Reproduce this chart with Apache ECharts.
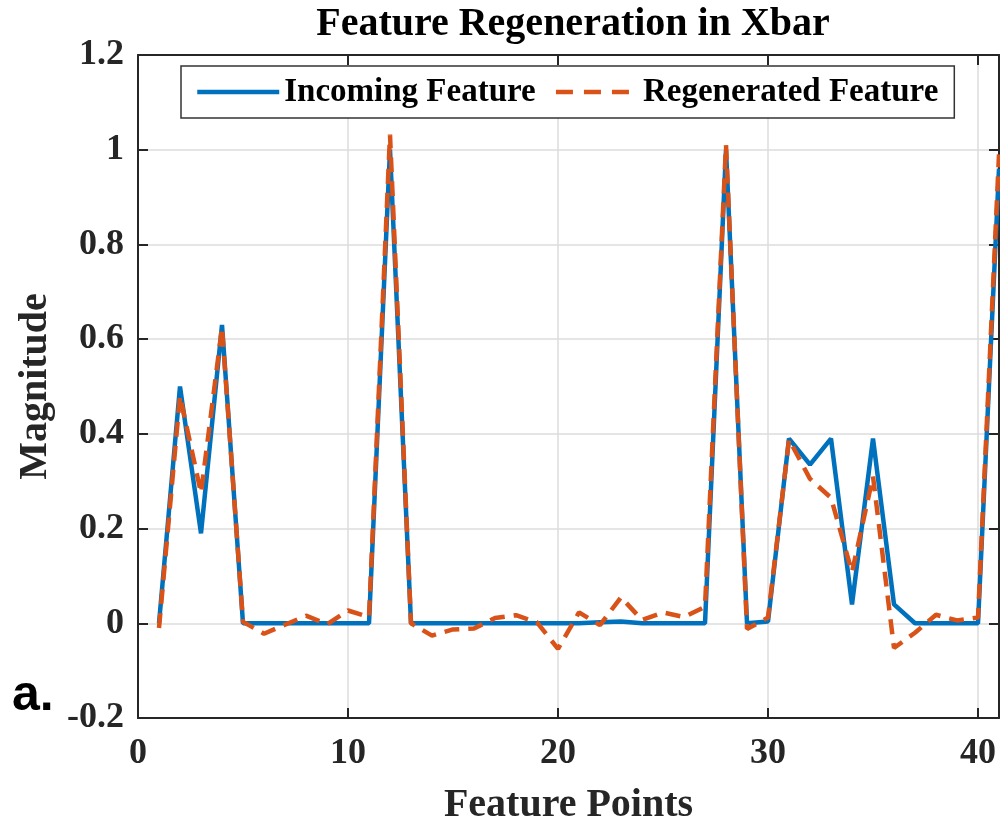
<!DOCTYPE html>
<html>
<head>
<meta charset="utf-8">
<script src="https://cdn.jsdelivr.net/npm/echarts@6/dist/echarts.min.js"></script>
<style>
  html, body { margin: 0; padding: 0; background: #fff; }
  #chart { width: 1000px; height: 823px; }
</style>
</head>
<body>
<div id="chart"></div>
<script>
// feature point index 1..41
var points = [];
for (var i = 1; i <= 41; i++) points.push(i);

var incoming = [0, 0.50, 0.19, 0.63, 0, 0, 0, 0, 0, 0,
  0, 1.0, 0, 0, 0, 0, 0, 0, 0, 0,
  0, 0.002, 0.004, 0, 0, 0, 0, 1.0, 0, 0.004,
  0.39, 0.335, 0.39, 0.04, 0.39, 0.04, 0, 0, 0, 0,
  0.96];

var regenerated = [-0.01, 0.48, 0.275, 0.625, 0.003, -0.022, -0.003, 0.016, -0.002, 0.027,
  0.013, 1.032, 0, -0.026, -0.013, -0.011, 0.011, 0.017, 0.002, -0.054,
  0.023, -0.004, 0.055, 0.007, 0.023, 0.013, 0.035, 1.01, -0.012, 0.012,
  0.388, 0.305, 0.265, 0.108, 0.31, -0.052, -0.02, 0.018, 0.006, 0.012,
  0.99];

var xTicks = [0, 10, 20, 30, 40];

function pairs(vals) {
  return vals.map(function (v, i) { return [points[i], v]; });
}

var serif = 'Liberation Serif, Times New Roman, serif';
var axisColor = '#262626';

var chart = echarts.init(document.getElementById('chart'));

var option = {
  animation: false,
  backgroundColor: '#fff',
  title: {
    text: 'Feature Regeneration in Xbar',
    left: 568,
    textAlign: 'center',
    top: 0,
    textStyle: { fontFamily: serif, fontWeight: 'bold', fontSize: 40, color: '#000' }
  },
  legend: {
    left: 181,
    top: 66,
    padding: [8, 16, 8, 14],
    itemGap: 18,
    itemWidth: 82,
    itemHeight: 2,
    borderColor: '#333',
    borderWidth: 1.5,
    borderRadius: 0,
    backgroundColor: '#fff',
    itemStyle: { opacity: 0 },
    lineStyle: { width: 4.5 },
    textStyle: { fontFamily: serif, fontWeight: 'bold', fontSize: 33, color: '#000', lineHeight: 36 },
    data: [
      'Incoming Feature',
      { name: 'Regenerated Feature', lineStyle: { width: 4.5, type: [17, 11] } }
    ]
  },
  grid: { left: 138, right: 1, top: 55, bottom: 105, outerBoundsMode: 'none' },
  xAxis: [{
    type: 'value',
    min: 0, max: 41, interval: 10,
    name: 'Feature Points',
    nameLocation: 'middle',
    nameGap: 68,
    nameTextStyle: { fontFamily: serif, fontWeight: 'bold', fontSize: 40, color: '#262626' },
    axisLine: { onZero: false, lineStyle: { color: axisColor, width: 2 } },
    axisTick: { inside: true, length: 10, lineStyle: { color: axisColor, width: 2 } },
    axisLabel: {
      margin: 18,
      fontFamily: serif, fontWeight: 'bold', fontSize: 36, color: '#262626',
      formatter: function (v) { return xTicks.indexOf(v) >= 0 ? String(v) : ''; }
    },
    splitLine: { show: true, lineStyle: { color: '#dcdcdc', width: 1.5 } }
  }, {
    type: 'value', position: 'top',
    min: 0, max: 41, interval: 10,
    axisLine: { onZero: false, lineStyle: { color: axisColor, width: 2 } },
    axisTick: { inside: true, length: 10, lineStyle: { color: axisColor, width: 2 } },
    axisLabel: { show: false },
    splitLine: { show: false }
  }],
  yAxis: [{
    type: 'value',
    min: -0.2, max: 1.2, interval: 0.2,
    name: 'Magnitude',
    nameLocation: 'middle',
    nameGap: 80,
    nameTextStyle: { fontFamily: serif, fontWeight: 'bold', fontSize: 40, color: '#262626' },
    axisLine: { show: true, onZero: false, lineStyle: { color: axisColor, width: 2 } },
    axisTick: { show: true, inside: true, length: 10, lineStyle: { color: axisColor, width: 2 } },
    axisLabel: { margin: 14, fontFamily: serif, fontWeight: 'bold', fontSize: 36, color: '#262626' },
    splitLine: { show: true, lineStyle: { color: '#dcdcdc', width: 1.5 } }
  }, {
    type: 'value', position: 'right',
    min: -0.2, max: 1.2, interval: 0.2,
    axisLine: { show: true, onZero: false, lineStyle: { color: axisColor, width: 2 } },
    axisTick: { show: true, inside: true, length: 10, lineStyle: { color: axisColor, width: 2 } },
    axisLabel: { show: false },
    splitLine: { show: false }
  }],
  graphic: [{
    type: 'text',
    left: 12,
    top: 671,
    style: { text: 'a.', font: 'bold 50px Liberation Sans, Arial, sans-serif', fill: '#000' }
  }],
  series: [{
    name: 'Incoming Feature',
    type: 'line',
    data: pairs(incoming),
    symbol: 'none',
    lineStyle: { color: '#0072BD', width: 4.5 },
    itemStyle: { color: '#0072BD' },
    z: 2
  }, {
    name: 'Regenerated Feature',
    type: 'line',
    data: pairs(regenerated),
    symbol: 'none',
    lineStyle: { color: '#D95319', width: 4.5, type: [15, 9] },
    itemStyle: { color: '#D95319' },
    z: 3
  }]
};

chart.setOption(option);
</script>
</body>
</html>
